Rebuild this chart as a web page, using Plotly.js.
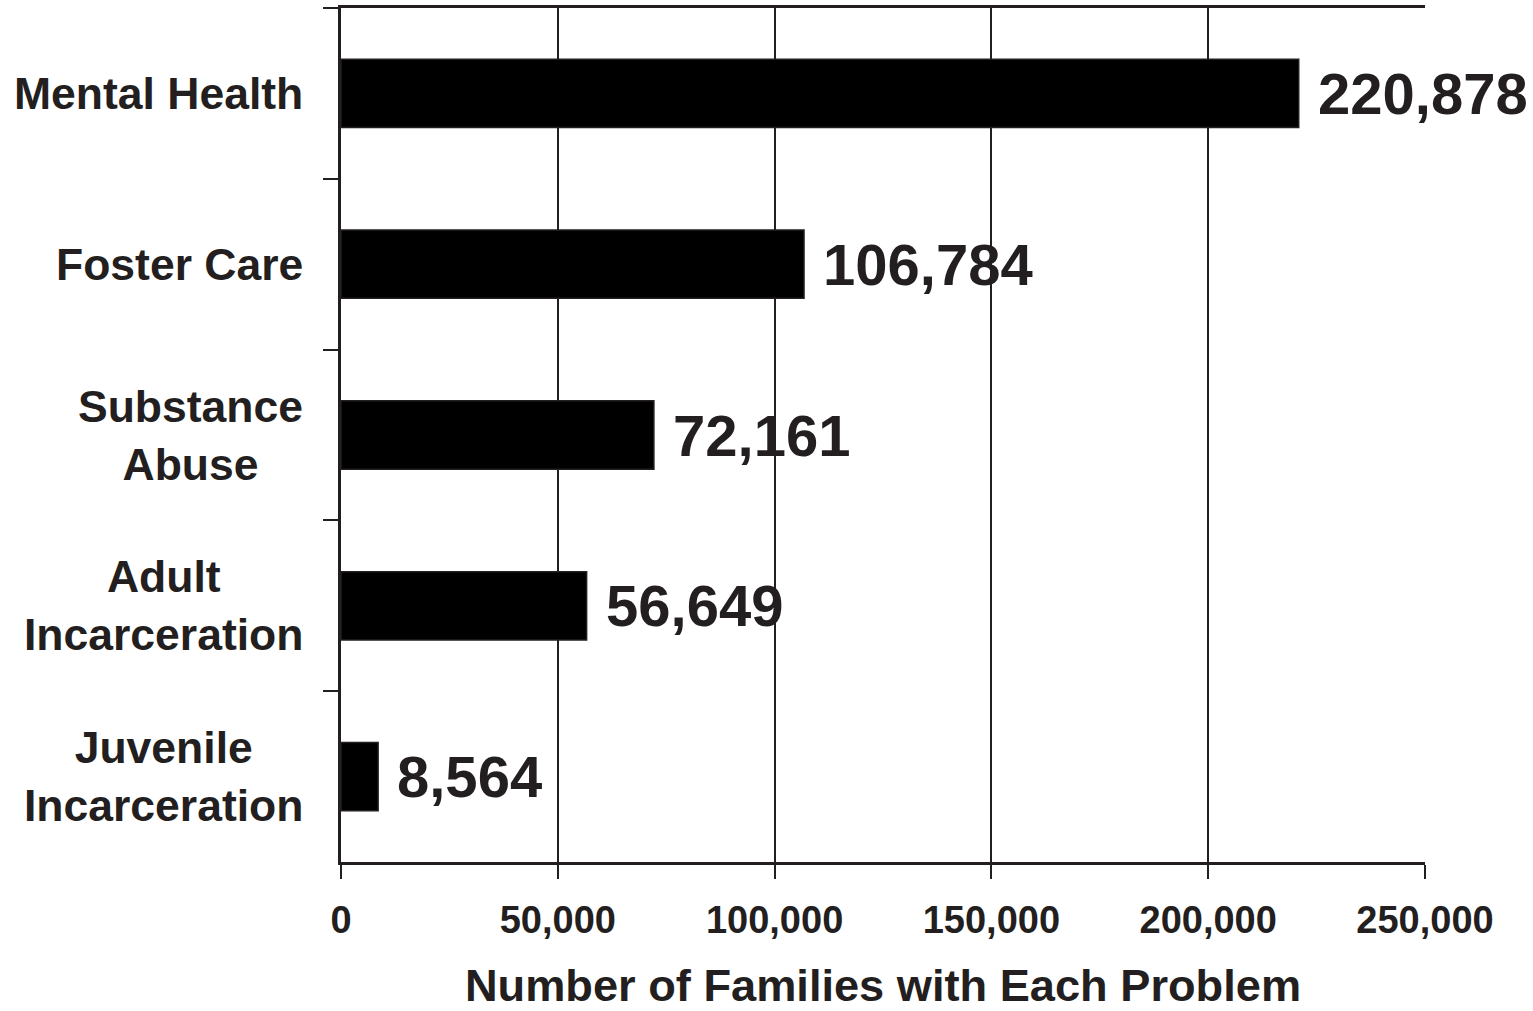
<!DOCTYPE html>
<html>
<head>
<meta charset="utf-8">
<script src="https://cdn.plot.ly/plotly-3.0.1.min.js"></script>
<style>
html,body{margin:0;padding:0;background:#fff;}
#chart{width:1533px;height:1011px;}
</style>
</head>
<body>
<div id="chart"></div>
<script>
const categories = ["Mental Health", "Foster Care", "Substance<br>Abuse", "Adult<br>Incarceration", "Juvenile<br>Incarceration"];
const families = [220878, 106784, 72161, 56649, 8564];
const valueLabels = ["220,878", "106,784", "72,161", "56,649", "8,564"];
const xTickVals = [0, 50000, 100000, 150000, 200000, 250000];
const xTickText = ["0", "50,000", "100,000", "150,000", "200,000", "250,000"];

const ink = "#231f20";
const font = "Liberation Sans, Arial, sans-serif";

const trace = {
  type: "bar",
  orientation: "h",
  x: families,
  y: categories,
  width: 0.4,
  marker: {color: "#000000", line: {color: ink, width: 1.5}},
  hoverinfo: "skip"
};

const valueAnnotations = families.map((v, i) => ({
  x: v, y: categories[i], xref: "x", yref: "y",
  text: valueLabels[i], showarrow: false,
  xanchor: "left", yanchor: "middle", xshift: 17,
  font: {family: font, size: 58, color: ink, weight: "bold"}
}));

const categoryAnnotations = categories.map((c) => ({
  x: 0, y: c, xref: "paper", yref: "y",
  text: c, showarrow: false, align: "center",
  xanchor: "right", yanchor: "middle", xshift: -36,
  font: {family: font, size: 44.5, color: ink, weight: "bold"}
}));

const layout = {
  width: 1533, height: 1011,
  margin: {l: 341, r: 108, t: 8, b: 149},
  paper_bgcolor: "#ffffff", plot_bgcolor: "#ffffff",
  showlegend: false,
  bargap: 0.6,
  annotations: valueAnnotations.concat(categoryAnnotations),
  xaxis: {
    range: [0, 250000],
    tickvals: xTickVals, ticktext: xTickText,
    showgrid: true, gridcolor: ink, gridwidth: 2,
    zeroline: false,
    showline: true, linecolor: ink, linewidth: 3, mirror: true,
    ticks: "outside", ticklen: 14, tickwidth: 2, tickcolor: ink,
    ticklabelstandoff: 8,
    tickfont: {family: font, size: 38, color: ink, weight: "bold"},
    title: {text: "Number of Families with Each Problem", standoff: 34,
            font: {family: font, size: 45.2, color: ink, weight: "bold"}},
    fixedrange: true
  },
  yaxis: {
    type: "category",
    categoryorder: "array", categoryarray: categories,
    range: [4.5, -0.5],
    tickson: "boundaries",
    showgrid: false, zeroline: false,
    showline: true, linecolor: ink, linewidth: 3,
    ticks: "outside", ticklen: 15, tickwidth: 2, tickcolor: ink,
    showticklabels: false,
    fixedrange: true
  }
};

Plotly.newPlot("chart", [trace], layout, {displayModeBar: false, staticPlot: true});
</script>
</body>
</html>
